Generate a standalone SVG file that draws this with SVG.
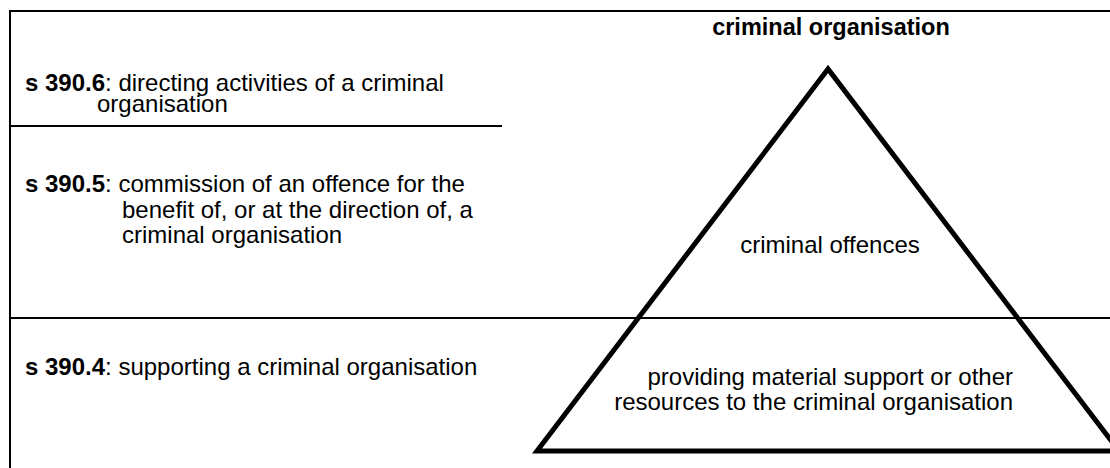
<svg xmlns="http://www.w3.org/2000/svg" width="1110" height="468" viewBox="0 0 1110 468">
  <style>
    text { font-family: "Liberation Sans", Arial, sans-serif; font-size: 24px; fill: #000; }
    .b { font-weight: bold; }
    .title { font-weight: bold; font-size: 23.5px; }
    .rule { stroke: #000; stroke-width: 2; fill: none; }
    .tri { stroke: #000; stroke-width: 5; fill: none; stroke-linejoin: miter; stroke-miterlimit: 10; }
  </style>
  <rect width="1110" height="468" fill="#fff"/>

  <!-- frame and band dividers -->
  <g id="connectors">
    <line class="rule" x1="10" y1="11" x2="1110" y2="11"/>
    <line class="rule" x1="10" y1="10" x2="10" y2="468"/>
    <line class="rule" x1="10" y1="126" x2="502" y2="126"/>
    <line class="rule" x1="10" y1="318" x2="1110" y2="318"/>
  </g>

  <!-- pyramid -->
  <g id="pyramid">
    <polygon class="tri" points="828,69 537,451 1119,451"/>
    <text class="title" x="831" y="35" text-anchor="middle">criminal organisation</text>
    <text x="830" y="253" text-anchor="middle">criminal offences</text>
    <text x="1013" y="385" text-anchor="end">providing material support or other</text>
    <text x="1013" y="410" text-anchor="end">resources to the criminal organisation</text>
  </g>

  <!-- offence sections -->
  <g id="s3906">
    <text x="25" y="91"><tspan class="b">s 390.6</tspan>: directing activities of a criminal</text>
    <text x="97" y="112">organisation</text>
  </g>
  <g id="s3905">
    <text x="25" y="192"><tspan class="b">s 390.5</tspan>: commission of an offence for the</text>
    <text x="122" y="218">benefit of, or at the direction of, a</text>
    <text x="122" y="243">criminal organisation</text>
  </g>
  <g id="s3904">
    <text x="25" y="375"><tspan class="b">s 390.4</tspan>: supporting a criminal organisation</text>
  </g>
</svg>
